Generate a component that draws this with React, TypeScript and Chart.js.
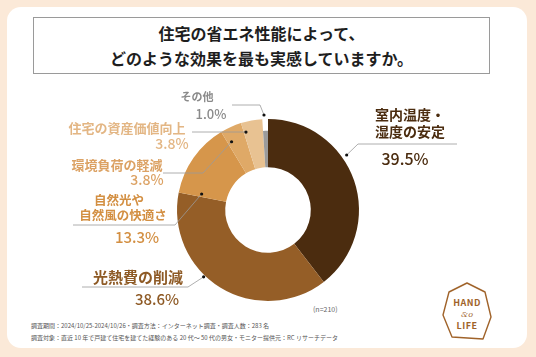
import React, { useEffect, useRef } from "react";
import { Chart, registerables } from "chart.js";

Chart.register(...registerables);

const categories = [
  "室内温度・湿度の安定",
  "光熱費の削減",
  "自然光や自然風の快適さ",
  "環境負荷の軽減",
  "住宅の資産価値向上",
  "その他",
];
const labelLines = [
  ["室内温度・", "湿度の安定"],
  ["光熱費の削減"],
  ["自然光や", "自然風の快適さ"],
  ["環境負荷の軽減"],
  ["住宅の資産価値向上"],
  ["その他"],
];
const values = [39.5, 38.6, 13.3, 3.8, 3.8, 1.0];
const sliceColors = ["#4B2C0F", "#955E27", "#D6964B", "#DFA967", "#E8C292", "#9B9B9B"];
const textColors = ["#4B2C0F", "#8E5A25", "#D38F42", "#DCA264", "#E3B684", "#8A8A8A"];

const titleLines = ["住宅の省エネ性能によって、", "どのような効果を最も実感していますか。"];
const sampleNote = "(n=210)";
const footerLines = [
  "調査期間：2024/10/25-2024/10/26・調査方法：インターネット調査・調査人数：283 名",
  "調査対象：直近 10 年で戸建て住宅を建てた経験のある 20 代〜 50 代の男女・モニター提供元：RC リサーチデータ",
];

// layout for the callout labels (positions/styles only)
type LabelLayout = {
  nameX: number[]; nameY: number[]; nameSize: number;
  pctX: number; pctY: number; pctSize: number;
  lineFrom: [number, number]; elbow: [number, number];
  angleFrac: number; radiusFrac: number;
};
const layout: LabelLayout[] = [
  { nameX: [410, 410], nameY: [115, 132], nameSize: 14, pctX: 405, pctY: 159, pctSize: 16, lineFrom: [457, 144], elbow: [358, 144], angleFrac: 0.387, radiusFrac: 1.055 },
  { nameX: [138], nameY: [277], nameSize: 15, pctX: 157, pctY: 299, pctSize: 15, lineFrom: [82, 287], elbow: [188, 287], angleFrac: 0.588, radiusFrac: 1.02 },
  { nameX: [119, 123], nameY: [200, 215], nameSize: 12.5, pctX: 137, pctY: 237, pctSize: 15, lineFrom: [73, 225], elbow: [175, 225], angleFrac: 0.05, radiusFrac: 0.75 },
  { nameX: [117], nameY: [165], nameSize: 13, pctX: 147, pctY: 180, pctSize: 14, lineFrom: [163, 173], elbow: [203, 173], angleFrac: 0.21, radiusFrac: 0.85 },
  { nameX: [127], nameY: [128], nameSize: 13, pctX: 172, pctY: 144, pctSize: 14, lineFrom: [192, 132], elbow: [240, 132], angleFrac: 0.11, radiusFrac: 0.89 },
  { nameX: [197], nameY: [97], nameSize: 11, pctX: 211, pctY: 114, pctSize: 13, lineFrom: [232, 105], elbow: [260, 105], angleFrac: 0.33, radiusFrac: 1.045 },
];

const FONT = '"Noto Sans CJK JP", "Noto Sans", sans-serif';

const shortSlicePlugin = {
  id: "shortSlice",
  afterDatasetsUpdate(chart: any) {
    const meta = chart.getDatasetMeta(0);
    const arc = meta.data[5];
    if (arc) arc.outerRadius = arc.outerRadius * 0.87;
  },
};

const calloutPlugin = {
  id: "callouts",
  afterDatasetsDraw(chart: any) {
    const ctx = chart.ctx;
    const meta = chart.getDatasetMeta(0);
    const full = meta.data[0];
    const R = full.outerRadius;
    meta.data.forEach((arc: any, i: number) => {
      const L = layout[i];
      const ang = arc.startAngle + (arc.endAngle - arc.startAngle) * L.angleFrac;
      const r = R * L.radiusFrac;
      const dx = arc.x + Math.cos(ang) * r;
      const dy = arc.y + Math.sin(ang) * r;
      ctx.save();
      ctx.strokeStyle = "#9a9a9a";
      ctx.lineWidth = 0.8;
      ctx.beginPath();
      ctx.moveTo(L.lineFrom[0], L.lineFrom[1]);
      ctx.lineTo(L.elbow[0], L.elbow[1]);
      ctx.lineTo(dx, dy);
      ctx.stroke();
      ctx.fillStyle = "#111";
      ctx.beginPath();
      ctx.arc(dx, dy, 1.6, 0, Math.PI * 2);
      ctx.fill();
      ctx.textAlign = "center";
      ctx.textBaseline = "middle";
      ctx.fillStyle = textColors[i];
      ctx.font = `bold ${L.nameSize}px ${FONT}`;
      labelLines[i].forEach((t, k) => ctx.fillText(t, L.nameX[k], L.nameY[k]));
      ctx.font = `500 ${L.pctSize}px ${FONT}`;
      ctx.fillText(`${values[i].toFixed(1)}%`, L.pctX, L.pctY);
      ctx.restore();
    });
  },
};

function DonutChart() {
  const ref = useRef<HTMLCanvasElement | null>(null);
  useEffect(() => {
    if (!ref.current) return;
    const chart = new Chart(ref.current, {
      type: "doughnut",
      data: {
        labels: categories,
        datasets: [
          {
            data: values,
            backgroundColor: sliceColors,
            borderWidth: 0,
          },
        ],
      },
      options: {
        responsive: true,
        maintainAspectRatio: false,
        animation: false,
        cutout: "47%",
        layout: { padding: { left: 177, right: 177, top: 119, bottom: 56 } },
        plugins: { legend: { display: false }, tooltip: { enabled: false } },
        events: [],
      },
      plugins: [shortSlicePlugin, calloutPlugin],
    });
    return () => chart.destroy();
  }, []);
  return (
    <div style={{ position: "absolute", left: 0, top: 0, width: 536, height: 357 }}>
      <canvas ref={ref} />
    </div>
  );
}

function Logo() {
  const c = "#A0632A";
  return (
    <svg width={60} height={66} viewBox="0 0 60 66" style={{ position: "absolute", left: 438, top: 279 }}>
      <polygon points="29,4 11,13 5,36 14,58 45,60 53,38 47,13" fill="none" stroke={c} strokeWidth={1.4} strokeLinejoin="round" />
      <text x={29} y={27} textAnchor="middle" fill={c} fontFamily={FONT} fontWeight="bold" fontSize={9} letterSpacing={0.5}>HAND</text>
      <text x={29} y={38} textAnchor="middle" fill={c} fontFamily="DejaVu Serif" fontStyle="italic" fontSize={8}>&amp;o</text>
      <text x={29} y={50} textAnchor="middle" fill={c} fontFamily={FONT} fontWeight="bold" fontSize={9} letterSpacing={0.5}>LIFE</text>
    </svg>
  );
}

export default function App() {
  return (
    <div style={{ position: "fixed", left: 0, top: 0, width: 536, height: 357, background: "#FBE9D8", overflow: "hidden", fontFamily: FONT }}>
      <div style={{ position: "absolute", left: 7, top: 7, width: 520, height: 341, background: "#fff", borderRadius: 14 }} />
      <div style={{ position: "absolute", left: 33, top: 17, width: 457, height: 57, border: "1px solid #9a9a9a", boxSizing: "border-box", display: "flex", flexDirection: "column", alignItems: "center", justifyContent: "center" }}>
        {titleLines.map((t) => (
          <div key={t} style={{ fontSize: 16, fontWeight: "bold", color: "#1e1e1e", lineHeight: "25px" }}>{t}</div>
        ))}
      </div>
      <div style={{ position: "absolute", left: 313, top: 304, fontSize: 7, color: "#666", lineHeight: "10px" }}>{sampleNote}</div>
      {footerLines.map((t, i) => (
        <div key={i} style={{ position: "absolute", left: 31, top: 322 + i * 11.5, fontSize: 6, color: "#555", lineHeight: "8px", whiteSpace: "nowrap" }}>{t}</div>
      ))}
      <Logo />
      <DonutChart />
    </div>
  );
}
